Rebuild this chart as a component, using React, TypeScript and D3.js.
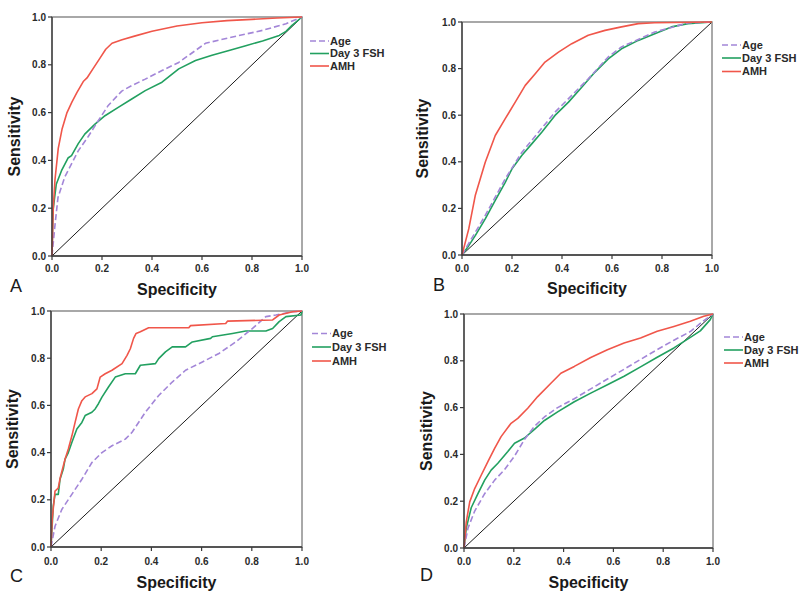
import React from "react";
import * as d3 from "d3";

type Pt = [number, number];

const tickValues = [0, 0.2, 0.4, 0.6, 0.8, 1.0];
const seriesNames = ["Age", "Day 3 FSH", "AMH"];
const panelLetters = ["A", "B", "C", "D"];

// Panel A
const ageA: Pt[] = [[0,0],[0.011,0.12],[0.024,0.245],[0.051,0.33],[0.078,0.385],[0.105,0.44],[0.145,0.5],[0.185,0.566],[0.225,0.63],[0.279,0.69],[0.319,0.713],[0.373,0.74],[0.44,0.776],[0.507,0.81],[0.574,0.86],[0.614,0.89],[0.708,0.913],[0.842,0.944],[0.936,0.972],[1,1]];
const fshA: Pt[] = [[0,0],[0.004,0.19],[0.017,0.3],[0.038,0.357],[0.064,0.41],[0.078,0.42],[0.105,0.47],[0.131,0.51],[0.172,0.552],[0.212,0.587],[0.265,0.622],[0.319,0.657],[0.373,0.692],[0.44,0.727],[0.507,0.783],[0.574,0.818],[0.64,0.84],[0.708,0.86],[0.775,0.88],[0.842,0.9],[0.909,0.923],[0.936,0.94],[0.96,0.965],[1,1]];
const amhA: Pt[] = [[0,0],[0.005,0.2],[0.012,0.32],[0.025,0.45],[0.04,0.53],[0.06,0.6],[0.08,0.645],[0.1,0.685],[0.125,0.73],[0.14,0.745],[0.165,0.785],[0.19,0.825],[0.215,0.865],[0.24,0.89],[0.28,0.905],[0.33,0.92],[0.4,0.94],[0.5,0.962],[0.6,0.976],[0.7,0.985],[0.8,0.99],[0.9,0.996],[1,1]];

// Panel B
const ageB: Pt[] = [[0,0],[0.027,0.05],[0.053,0.097],[0.093,0.17],[0.173,0.327],[0.239,0.44],[0.306,0.527],[0.372,0.613],[0.439,0.685],[0.505,0.756],[0.585,0.85],[0.638,0.893],[0.771,0.957],[0.904,0.996],[1,1]];
const fshB: Pt[] = [[0,0],[0.027,0.04],[0.053,0.083],[0.093,0.155],[0.133,0.234],[0.173,0.312],[0.2,0.37],[0.239,0.427],[0.279,0.477],[0.319,0.527],[0.372,0.599],[0.426,0.656],[0.479,0.72],[0.532,0.785],[0.585,0.842],[0.638,0.885],[0.705,0.921],[0.771,0.95],[0.838,0.979],[0.904,0.993],[1,1]];
const amhB: Pt[] = [[0,0],[0.027,0.112],[0.053,0.255],[0.093,0.398],[0.133,0.513],[0.173,0.585],[0.213,0.656],[0.253,0.728],[0.293,0.778],[0.332,0.828],[0.386,0.871],[0.439,0.907],[0.505,0.943],[0.572,0.964],[0.638,0.979],[0.705,0.993],[0.77,0.997],[1,1]];

// Panel C
const ageC: Pt[] = [[0,0],[0.016,0.088],[0.043,0.159],[0.083,0.223],[0.123,0.287],[0.163,0.358],[0.203,0.4],[0.243,0.429],[0.296,0.457],[0.323,0.486],[0.376,0.571],[0.429,0.642],[0.483,0.699],[0.536,0.749],[0.603,0.784],[0.669,0.82],[0.736,0.869],[0.803,0.926],[0.856,0.976],[0.896,0.983],[0.963,0.997],[1,1]];
const fshC: Pt[] = [[0,0],[0.009,0.173],[0.016,0.223],[0.029,0.223],[0.036,0.287],[0.049,0.33],[0.056,0.372],[0.069,0.4],[0.083,0.443],[0.103,0.5],[0.123,0.528],[0.136,0.557],[0.163,0.571],[0.176,0.585],[0.189,0.607],[0.203,0.635],[0.229,0.678],[0.256,0.72],[0.296,0.734],[0.336,0.734],[0.356,0.77],[0.416,0.777],[0.429,0.798],[0.456,0.827],[0.483,0.848],[0.536,0.848],[0.563,0.869],[0.636,0.884],[0.643,0.891],[0.723,0.905],[0.776,0.915],[0.856,0.915],[0.883,0.926],[0.909,0.955],[0.936,0.976],[0.996,0.983],[1,1]];
const amhC: Pt[] = [[0,0],[0.005,0.12],[0.016,0.237],[0.029,0.25],[0.036,0.29],[0.056,0.372],[0.069,0.415],[0.083,0.47],[0.096,0.528],[0.109,0.585],[0.123,0.62],[0.136,0.636],[0.163,0.65],[0.183,0.67],[0.196,0.72],[0.216,0.734],[0.243,0.749],[0.283,0.777],[0.303,0.812],[0.316,0.84],[0.329,0.884],[0.339,0.905],[0.356,0.912],[0.389,0.929],[0.549,0.929],[0.556,0.938],[0.696,0.947],[0.703,0.957],[0.883,0.962],[0.909,0.983],[0.963,0.997],[1,1]];

// Panel D
const ageD: Pt[] = [[0,0],[0.016,0.085],[0.043,0.158],[0.083,0.232],[0.123,0.29],[0.163,0.335],[0.203,0.393],[0.243,0.464],[0.283,0.52],[0.323,0.56],[0.376,0.6],[0.443,0.638],[0.509,0.68],[0.576,0.722],[0.643,0.764],[0.709,0.806],[0.776,0.848],[0.843,0.888],[0.909,0.925],[0.963,0.972],[1,1]];
const fshD: Pt[] = [[0,0],[0.009,0.085],[0.029,0.172],[0.056,0.232],[0.083,0.29],[0.109,0.333],[0.136,0.362],[0.176,0.412],[0.203,0.448],[0.243,0.47],[0.283,0.507],[0.323,0.545],[0.376,0.582],[0.443,0.625],[0.509,0.662],[0.576,0.698],[0.643,0.734],[0.709,0.774],[0.776,0.815],[0.843,0.855],[0.909,0.9],[0.949,0.928],[0.989,0.976],[1,1]];
const amhD: Pt[] = [[0,0],[0.009,0.111],[0.023,0.197],[0.043,0.254],[0.069,0.311],[0.096,0.369],[0.123,0.426],[0.149,0.476],[0.189,0.533],[0.216,0.554],[0.256,0.597],[0.296,0.647],[0.349,0.704],[0.389,0.747],[0.443,0.776],[0.509,0.814],[0.576,0.847],[0.643,0.876],[0.709,0.897],[0.776,0.926],[0.843,0.947],[0.909,0.969],[0.963,0.99],[1,1]];

const panelSeries: Pt[][][] = [
  [ageA, fshA, amhA],
  [ageB, fshB, amhB],
  [ageC, fshC, amhC],
  [ageD, fshD, amhD],
];

const colors = ["#a386d8", "#22a060", "#f0564a"];
const FONT = "Arial, 'Liberation Sans', Helvetica, sans-serif";

interface Layout {
  left: number; right: number; top: number; bottom: number;
  letterX: number; letterY: number;
  legendX: number; legendY: number[];
  xLabelY: number; yLabelX: number; xTickY: number;
}

const layouts: Layout[] = [
  { left: 52, right: 302, top: 17, bottom: 256, letterX: 10, letterY: 292, legendX: 310, legendY: [41, 53.5, 66], xLabelY: 295, yLabelX: 20, xTickY: 272 },
  { left: 462, right: 712, top: 22, bottom: 255, letterX: 433, letterY: 291, legendX: 722, legendY: [45, 58, 71.5], xLabelY: 294, yLabelX: 428, xTickY: 272 },
  { left: 51, right: 302, top: 311, bottom: 547, letterX: 10, letterY: 582, legendX: 312, legendY: [333.5, 347, 361], xLabelY: 588, yLabelX: 18, xTickY: 565 },
  { left: 464, right: 713, top: 314, bottom: 548, letterX: 420, letterY: 581, legendX: 724, legendY: [337, 350, 363], xLabelY: 588, yLabelX: 432, xTickY: 565 },
];

const fmt = d3.format(".1f");

function Panel({ idx }: { idx: number }) {
  const L = layouts[idx];
  const x = d3.scaleLinear().domain([0, 1]).range([L.left, L.right]);
  const y = d3.scaleLinear().domain([0, 1]).range([L.bottom, L.top]);
  const line = d3.line<Pt>().x((d) => x(d[0])).y((d) => y(d[1]));
  const series = panelSeries[idx];
  const cx = (L.left + L.right) / 2;
  const cy = (L.top + L.bottom) / 2;
  return (
    <g>
      <rect x={L.left} y={L.top} width={L.right - L.left} height={L.bottom - L.top} fill="white" stroke="#8c8c8c" strokeWidth={1.5} />
      <path d={line([[0, 0], [1, 1]]) || ""} stroke="#1a1a1a" strokeWidth={1} fill="none" />
      {[1, 0, 2].map((s) => (
        <path key={s} d={line(series[s]) || ""} fill="none" stroke={colors[s]} strokeWidth={1.6}
          strokeDasharray={s === 0 ? "6,3" : undefined} strokeLinejoin="round" />
      ))}
      <line x1={L.left} x2={L.left} y1={L.top} y2={L.bottom} stroke="#3a3a3a" strokeWidth={1.3} />
      <line x1={L.left} x2={L.right} y1={L.bottom} y2={L.bottom} stroke="#3a3a3a" strokeWidth={1.3} />
      {tickValues.map((t) => (
        <g key={"y" + t}>
          <line x1={L.left - 4} x2={L.left} y1={y(t)} y2={y(t)} stroke="#3a3a3a" strokeWidth={1.2} />
          <text x={L.left - 6} y={y(t)} dy="0.36em" textAnchor="end" fontFamily={FONT} fontWeight="bold" fontSize={10} fill="#2a2a2a">{fmt(t)}</text>
          <line x1={x(t)} x2={x(t)} y1={L.bottom} y2={L.bottom + 4} stroke="#3a3a3a" strokeWidth={1.2} />
          <text x={x(t)} y={L.xTickY} textAnchor="middle" fontFamily={FONT} fontWeight="bold" fontSize={10} fill="#2a2a2a">{fmt(t)}</text>
        </g>
      ))}
      <text x={cx} y={L.xLabelY} textAnchor="middle" fontFamily={FONT} fontWeight="bold" fontSize={16} fill="#1a1a1a">Specificity</text>
      <text transform={`translate(${L.yLabelX},${cy}) rotate(-90)`} textAnchor="middle" fontFamily={FONT} fontWeight="bold" fontSize={16} fill="#1a1a1a">Sensitivity</text>
      <text x={L.letterX} y={L.letterY} fontFamily={FONT} fontSize={18} fill="#1a1a1a">{panelLetters[idx]}</text>
      {seriesNames.map((n, s) => (
        <g key={n}>
          <line x1={L.legendX} x2={L.legendX + 19} y1={L.legendY[s]} y2={L.legendY[s]} stroke={colors[s]} strokeWidth={1.6}
            strokeDasharray={s === 0 ? "6,3" : undefined} />
          <text x={L.legendX + 20} y={L.legendY[s]} dy="0.36em" fontFamily={FONT} fontWeight="bold" fontSize={11} fill="#2a2a2a">{n}</text>
        </g>
      ))}
    </g>
  );
}

export default function App() {
  return (
    <svg width={800} height={593} style={{ position: "absolute", left: 0, top: 0, background: "white" }}>
      <rect width={800} height={593} fill="white" />
      {[0, 1, 2, 3].map((i) => <Panel key={i} idx={i} />)}
    </svg>
  );
}
